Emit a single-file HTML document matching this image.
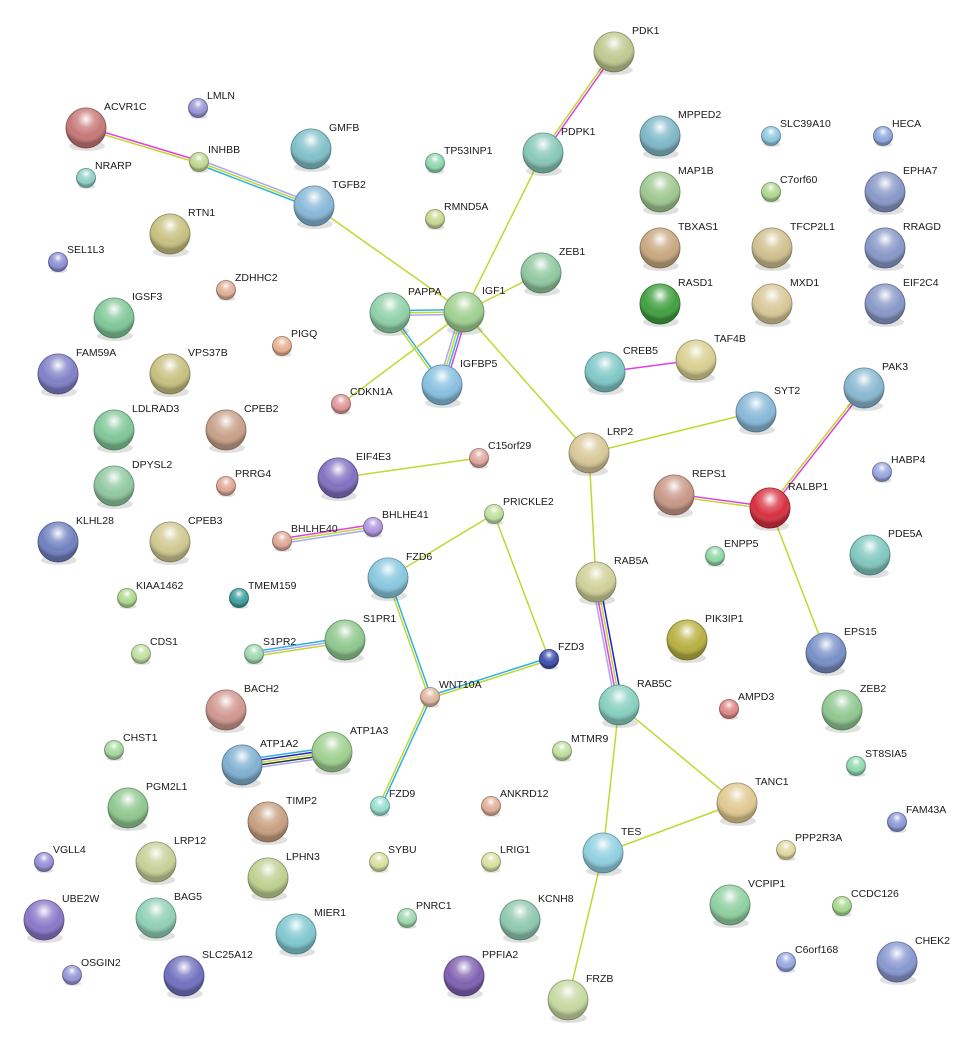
<!DOCTYPE html>
<html><head><meta charset="utf-8"><style>
html,body{margin:0;padding:0;background:#fff;}
svg{display:block;}
text{font-family:"Liberation Sans",sans-serif;font-size:10.5px;fill:#1a1a1a;}
</style></head><body>
<svg id="s" width="968" height="1047" viewBox="0 0 968 1047" xmlns="http://www.w3.org/2000/svg">
<defs>
<radialGradient id="hl" cx="50%" cy="28%" r="60%">
<stop offset="0" stop-color="#fff" stop-opacity="0.95"/>
<stop offset="0.35" stop-color="#fff" stop-opacity="0.25"/>
<stop offset="0.7" stop-color="#fff" stop-opacity="0"/>
<stop offset="1" stop-color="#000" stop-opacity="0.25"/>
</radialGradient>
</defs>
<g id="edges"></g>
<g id="nodes"></g>
<g id="labels">
<text x="104" y="110">ACVR1C</text>
<text x="329" y="131">GMFB</text>
<text x="332" y="188">TGFB2</text>
<text x="632" y="34">PDK1</text>
<text x="561" y="135">PDPK1</text>
<text x="678" y="118">MPPED2</text>
<text x="678" y="174">MAP1B</text>
<text x="678" y="230">TBXAS1</text>
<text x="790" y="230">TFCP2L1</text>
<text x="903" y="174">EPHA7</text>
<text x="903" y="230">RRAGD</text>
<text x="188" y="216">RTN1</text>
<text x="559" y="255">ZEB1</text>
<text x="678" y="286">RASD1</text>
<text x="790" y="286">MXD1</text>
<text x="903" y="286">EIF2C4</text>
<text x="132" y="300">IGSF3</text>
<text x="408" y="295">PAPPA</text>
<text x="482" y="294">IGF1</text>
<text x="460" y="367">IGFBP5</text>
<text x="623" y="354">CREB5</text>
<text x="714" y="342">TAF4B</text>
<text x="882" y="370">PAK3</text>
<text x="76" y="356">FAM59A</text>
<text x="188" y="356">VPS37B</text>
<text x="132" y="412">LDLRAD3</text>
<text x="244" y="412">CPEB2</text>
<text x="774" y="394">SYT2</text>
<text x="607" y="435">LRP2</text>
<text x="356" y="460">EIF4E3</text>
<text x="692" y="477">REPS1</text>
<text x="788" y="490">RALBP1</text>
<text x="132" y="468">DPYSL2</text>
<text x="76" y="524">KLHL28</text>
<text x="188" y="524">CPEB3</text>
<text x="888" y="537">PDE5A</text>
<text x="406" y="560">FZD6</text>
<text x="614" y="564">RAB5A</text>
<text x="363" y="622">S1PR1</text>
<text x="705" y="622">PIK3IP1</text>
<text x="844" y="635">EPS15</text>
<text x="244" y="692">BACH2</text>
<text x="637" y="687">RAB5C</text>
<text x="860" y="692">ZEB2</text>
<text x="260" y="747">ATP1A2</text>
<text x="350" y="734">ATP1A3</text>
<text x="146" y="790">PGM2L1</text>
<text x="286" y="804">TIMP2</text>
<text x="755" y="785">TANC1</text>
<text x="621" y="835">TES</text>
<text x="174" y="844">LRP12</text>
<text x="286" y="860">LPHN3</text>
<text x="748" y="887">VCPIP1</text>
<text x="62" y="902">UBE2W</text>
<text x="174" y="900">BAG5</text>
<text x="314" y="916">MIER1</text>
<text x="538" y="902">KCNH8</text>
<text x="915" y="944">CHEK2</text>
<text x="202" y="958">SLC25A12</text>
<text x="482" y="958">PPFIA2</text>
<text x="586" y="982">FRZB</text>
<text x="207" y="99">LMLN</text>
<text x="208" y="153">INHBB</text>
<text x="95" y="169">NRARP</text>
<text x="444" y="154">TP53INP1</text>
<text x="780" y="127">SLC39A10</text>
<text x="892" y="127">HECA</text>
<text x="780" y="183">C7orf60</text>
<text x="444" y="210">RMND5A</text>
<text x="67" y="253">SEL1L3</text>
<text x="235" y="281">ZDHHC2</text>
<text x="291" y="337">PIGQ</text>
<text x="350" y="395">CDKN1A</text>
<text x="488" y="449">C15orf29</text>
<text x="891" y="463">HABP4</text>
<text x="235" y="477">PRRG4</text>
<text x="503" y="505">PRICKLE2</text>
<text x="291" y="532">BHLHE40</text>
<text x="382" y="518">BHLHE41</text>
<text x="724" y="547">ENPP5</text>
<text x="136" y="589">KIAA1462</text>
<text x="248" y="589">TMEM159</text>
<text x="150" y="645">CDS1</text>
<text x="263" y="645">S1PR2</text>
<text x="558" y="650">FZD3</text>
<text x="439" y="688">WNT10A</text>
<text x="738" y="700">AMPD3</text>
<text x="123" y="741">CHST1</text>
<text x="571" y="742">MTMR9</text>
<text x="865" y="757">ST8SIA5</text>
<text x="389" y="797">FZD9</text>
<text x="500" y="797">ANKRD12</text>
<text x="906" y="813">FAM43A</text>
<text x="795" y="841">PPP2R3A</text>
<text x="53" y="853">VGLL4</text>
<text x="388" y="853">SYBU</text>
<text x="500" y="853">LRIG1</text>
<text x="851" y="897">CCDC126</text>
<text x="416" y="909">PNRC1</text>
<text x="795" y="953">C6orf168</text>
<text x="81" y="966">OSGIN2</text>
</g>
</svg>
<script>
var N={ACVR1C:[86,128,20,"#c87878"],GMFB:[311,149,20,"#80c0c8"],TGFB2:[314,206,20,"#88b8d8"],PDK1:[614,52,20,"#c0c890"],PDPK1:[543,153,20,"#88c8b8"],MPPED2:[660,136,20,"#80b8c8"],MAP1B:[660,192,20,"#a0c890"],TBXAS1:[660,248,20,"#c8a880"],TFCP2L1:[772,248,20,"#d0c090"],EPHA7:[885,192,20,"#8898c8"],RRAGD:[885,248,20,"#8898c8"],RTN1:[170,234,20,"#c8c080"],ZEB1:[541,273,20,"#90c8a0"],RASD1:[660,304,20,"#40a040"],MXD1:[772,304,20,"#d8c898"],EIF2C4:[885,304,20,"#8898c8"],IGSF3:[114,318,20,"#80c898"],PAPPA:[390,313,20,"#90d0a8"],IGF1:[464,312,20,"#a0d090"],IGFBP5:[442,385,20,"#88c0e0"],CREB5:[605,372,20,"#80c8c8"],TAF4B:[696,360,20,"#d8d090"],PAK3:[864,388,20,"#88b8d0"],FAM59A:[58,374,20,"#8080c8"],VPS37B:[170,374,20,"#c8c080"],LDLRAD3:[114,430,20,"#80c898"],CPEB2:[226,430,20,"#c8a088"],SYT2:[756,412,20,"#88b8d8"],LRP2:[589,453,20,"#d8c898"],EIF4E3:[338,478,20,"#8070c0"],REPS1:[674,495,20,"#c89888"],RALBP1:[770,508,20,"#d83040"],DPYSL2:[114,486,20,"#90c8a0"],KLHL28:[58,542,20,"#7080c0"],CPEB3:[170,542,20,"#d0c890"],PDE5A:[870,555,20,"#80c8c0"],FZD6:[388,578,20,"#88c8e0"],RAB5A:[596,582,20,"#d0d098"],S1PR1:[345,640,20,"#90c890"],PIK3IP1:[687,640,20,"#b8b040"],EPS15:[826,653,20,"#7890c8"],BACH2:[226,710,20,"#d09890"],RAB5C:[619,705,20,"#88d0c0"],ZEB2:[842,710,20,"#90c890"],ATP1A2:[242,765,20,"#80b0d0"],ATP1A3:[332,752,20,"#a0d090"],PGM2L1:[128,808,20,"#90c890"],TIMP2:[268,822,20,"#c8a080"],TANC1:[737,803,20,"#e0c890"],TES:[603,853,20,"#90d0e0"],LRP12:[156,862,20,"#c8d098"],LPHN3:[268,878,20,"#c0d090"],VCPIP1:[730,905,20,"#90d0a0"],UBE2W:[44,920,20,"#8878c8"],BAG5:[156,918,20,"#90d0b8"],MIER1:[296,934,20,"#80c8d0"],KCNH8:[520,920,20,"#90c8b0"],CHEK2:[897,962,20,"#8898d0"],SLC25A12:[184,976,20,"#7070c0"],PPFIA2:[464,976,20,"#8060b0"],FRZB:[568,1000,20,"#c8d8a0"],
LMLN:[198,108,9.5,"#9898d8"],INHBB:[199,162,9.5,"#c0d890"],NRARP:[86,178,9.5,"#90d0c8"],TP53INP1:[435,163,9.5,"#90d8b0"],SLC39A10:[771,136,9.5,"#90c8e0"],HECA:[883,136,9.5,"#90a8e0"],C7orf60:[771,192,9.5,"#b0d890"],RMND5A:[435,219,9.5,"#c8d890"],SEL1L3:[58,262,9.5,"#9090d8"],ZDHHC2:[226,290,9.5,"#e0b098"],PIGQ:[282,346,9.5,"#e8b090"],CDKN1A:[341,404,9.5,"#e09898"],C15orf29:[479,458,9.5,"#e0a8a0"],HABP4:[882,472,9.5,"#98a8e0"],PRRG4:[226,486,9.5,"#e0a898"],PRICKLE2:[494,514,9.5,"#c0e0a0"],BHLHE40:[282,541,9.5,"#e0a898"],BHLHE41:[373,527,9.5,"#b098e0"],ENPP5:[715,556,9.5,"#90d8a8"],KIAA1462:[127,598,9.5,"#b0d890"],TMEM159:[239,598,9.5,"#40a0a0"],CDS1:[141,654,9.5,"#c0e0a0"],S1PR2:[254,654,9.5,"#a0d8b0"],FZD3:[549,659,9.5,"#4050b0"],WNT10A:[430,697,9.5,"#e0b8a0"],AMPD3:[729,709,9.5,"#e08888"],CHST1:[114,750,9.5,"#a8d8a0"],MTMR9:[562,751,9.5,"#c0e0a0"],ST8SIA5:[856,766,9.5,"#90d8b0"],FZD9:[380,806,9.5,"#98e0d0"],ANKRD12:[491,806,9.5,"#e0b098"],FAM43A:[897,822,9.5,"#9098d8"],PPP2R3A:[786,850,9.5,"#e0d8a0"],VGLL4:[44,862,9.5,"#9890d8"],SYBU:[379,862,9.5,"#d8e0a0"],LRIG1:[491,862,9.5,"#d8e0a0"],CCDC126:[842,906,9.5,"#a8d890"],PNRC1:[407,918,9.5,"#a0d8b0"],C6orf168:[786,962,9.5,"#98a8e0"],OSGIN2:[72,975,9.5,"#9898d8"]};
var Y="#c0d830",M="#e040e0",B="#30b0e0",L="#a8a8f8",D="#2020d0",K="#333";
var E=[["ACVR1C","INHBB",[M,Y]],["INHBB","TGFB2",[L,Y,B]],["TGFB2","IGF1",[Y]],["PDK1","PDPK1",[M,Y]],["PDPK1","IGF1",[Y]],["ZEB1","IGF1",[Y]],["PAPPA","IGF1",[B,Y,L]],["PAPPA","IGFBP5",[B,Y]],["IGF1","IGFBP5",[M,B,Y,L]],["IGF1","CDKN1A",[Y]],["IGF1","LRP2",[Y]],["CREB5","TAF4B",[M]],["LRP2","SYT2",[Y]],["LRP2","RAB5A",[Y]],["PAK3","RALBP1",[M,Y]],["REPS1","RALBP1",[M,Y]],["RALBP1","EPS15",[Y]],["EIF4E3","C15orf29",[Y]],["BHLHE40","BHLHE41",[M,Y,L]],["PRICKLE2","FZD6",[Y]],["PRICKLE2","FZD3",[Y]],["FZD6","WNT10A",[B,Y]],["S1PR2","S1PR1",[B,L,Y]],["WNT10A","FZD3",[B,Y]],["WNT10A","FZD9",[B,Y]],["RAB5A","RAB5C",[D,Y,M,L]],["RAB5C","TANC1",[Y]],["RAB5C","TES",[Y]],["TES","TANC1",[Y]],["TES","FRZB",[Y]],["ATP1A2","ATP1A3",[B,D,Y,K,L]]];
var ns="http://www.w3.org/2000/svg",eg=document.getElementById("edges"),ng=document.getElementById("nodes");
function el(t,a,p){var e=document.createElementNS(ns,t);for(var k in a)e.setAttribute(k,a[k]);p.appendChild(e);return e;}
E.forEach(function(e){var a=N[e[0]],b=N[e[1]],dx=b[0]-a[0],dy=b[1]-a[1],l=Math.sqrt(dx*dx+dy*dy),px=-dy/l,py=dx/l,n=e[2].length;
e[2].forEach(function(c,i){var o=(i-(n-1)/2)*2.4;el("line",{x1:a[0]+px*o,y1:a[1]+py*o,x2:b[0]+px*o,y2:b[1]+py*o,stroke:c,"stroke-width":1.5},eg);});});
function dk(c,f){var r=parseInt(c.substr(1,2),16),g=parseInt(c.substr(3,2),16),b=parseInt(c.substr(5,2),16);return "rgb("+Math.round(r*f)+","+Math.round(g*f)+","+Math.round(b*f)+")";}
for(var k in N){var d=N[k];
el("ellipse",{cx:d[0]+1,cy:d[1]+d[2]*0.9,rx:d[2]*0.9,ry:d[2]*0.25,fill:"#000",opacity:0.12},ng);
el("circle",{cx:d[0],cy:d[1],r:d[2],fill:d[3],stroke:dk(d[3],0.75),"stroke-width":1},ng);
el("circle",{cx:d[0],cy:d[1],r:d[2],fill:"url(#hl)"},ng);}
</script>
</body></html>
